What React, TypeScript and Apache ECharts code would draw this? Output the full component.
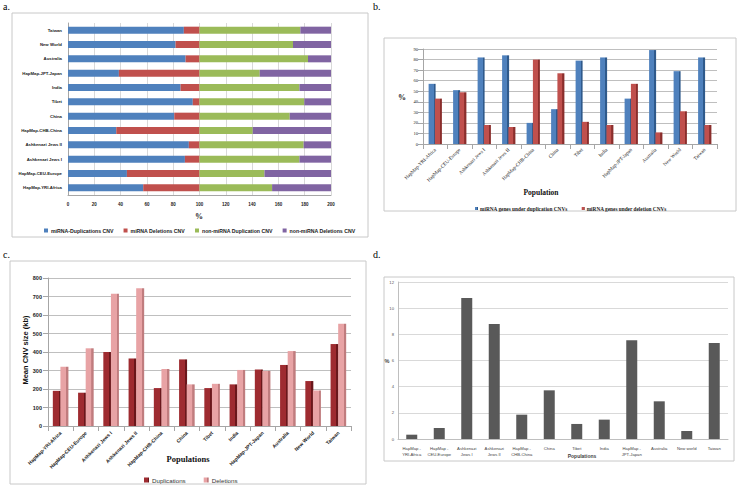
import React, { useEffect, useRef } from "react";
import * as echarts from "echarts";

const cats = [
  "HapMap-YRI-Africa",
  "HapMap-CEU-Europe",
  "Ashkenazi Jews I",
  "Ashkenazi Jews II",
  "HapMap-CHB-China",
  "China",
  "Tibet",
  "India",
  "HapMap-JPT-Japan",
  "Australia",
  "New World",
  "Taiwan",
];
const catsD = [
  "HapMap -\nYRI-Africa",
  "HapMap -\nCEU-Europe",
  "Ashkenazi\nJews I",
  "Ashkenazi\nJews II",
  "HapMap -\nCHB-China",
  "China",
  "Tibet",
  "India",
  "HapMap -\nJPT-Japan",
  "Australia",
  "New world",
  "Taiwan",
];

// Panel a (stacked %, two pairs each summing to 100)
const aMiDup = [57.2, 44.8, 88.9, 91.9, 36.7, 80.8, 94.9, 85.6, 38.7, 89.4, 81.8, 88.1];
const aMiDel = [42.8, 55.2, 11.1, 8.1, 63.3, 19.2, 5.1, 14.4, 61.3, 10.6, 18.2, 11.9];
const aNonDup = [55.2, 49.4, 76.0, 79.2, 40.5, 68.6, 79.7, 76.0, 45.8, 82.5, 71.1, 76.7];
const aNonDel = [44.8, 50.6, 24.0, 20.8, 59.5, 31.4, 20.3, 24.0, 54.2, 17.5, 28.9, 23.3];
const aTicks = [0, 200, 20];

// Panel b (%)
const bDup = [57, 51, 82, 84, 20, 33, 79, 82, 43, 89, 69, 82];
const bDel = [43, 49, 18, 16, 80, 67, 21, 18, 57, 11, 31, 18];

// Panel c (mean CNV size, kb)
const cDup = [190, 180, 400, 365, 205, 360, 205, 225, 305, 330, 243, 443];
const cDel = [320, 420, 715, 745, 308, 225, 228, 303, 298, 405, 192, 553];

// Panel d (%)
const dVals = [0.33, 0.84, 10.78, 8.79, 1.86, 3.72, 1.15, 1.48, 7.54, 2.88, 0.61, 7.34];

const SANS = "Liberation Sans, Arial, sans-serif";
const SERIF = "Liberation Serif, Times New Roman, serif";

function shade(base: string, side: string) {
  return new echarts.graphic.LinearGradient(0, 0, 1, 0, [
    { offset: 0, color: base },
    { offset: 0.72, color: base },
    { offset: 0.73, color: side },
    { offset: 1, color: side },
  ]);
}

export default function App() {
  const ref = useRef<HTMLDivElement>(null);
  useEffect(() => {
    if (!ref.current) return;
    const chart = echarts.init(ref.current, null, { renderer: "svg" });
    const grid = "#D9D9D9";
    const option: any = {
      animation: false,
      backgroundColor: "#ffffff",
      grid: [
        { left: 68, top: 23, width: 263, height: 172 },
        { left: 423, top: 49, width: 294, height: 95 },
        { left: 48, top: 278, width: 303, height: 148 },
        { left: 398, top: 282, width: 330, height: 157 },
      ],
      xAxis: [
        {
          gridIndex: 0,
          type: "value",
          min: aTicks[0],
          max: aTicks[1],
          interval: aTicks[2],
          axisLine: { show: true, lineStyle: { color: "#A6A6A6" } },
          axisTick: { show: false },
          splitLine: { lineStyle: { color: grid } },
          axisLabel: { fontSize: 4.5, fontWeight: "bold", color: "#222", fontFamily: SANS, margin: 7 },
        },
        {
          gridIndex: 1,
          type: "category",
          data: cats,
          axisLine: { lineStyle: { color: "#A6A6A6" } },
          axisTick: { show: true, lineStyle: { color: "#A6A6A6" } },
          axisLabel: { interval: 0, rotate: 45, fontSize: 5, color: "#222", fontFamily: SERIF, margin: 5 },
        },
        {
          gridIndex: 2,
          type: "category",
          data: cats,
          axisLine: { lineStyle: { color: "#A6A6A6" } },
          axisTick: { show: true, lineStyle: { color: "#A6A6A6" } },
          axisLabel: { interval: 0, rotate: 45, fontSize: 5, fontWeight: "bold", color: "#222", fontFamily: SANS, margin: 6 },
        },
        {
          gridIndex: 3,
          type: "category",
          data: catsD,
          axisLine: { lineStyle: { color: "#BFBFBF" } },
          axisTick: { show: false },
          axisLabel: { interval: 0, fontSize: 4.2, color: "#444", fontFamily: SANS, margin: 6, lineHeight: 6 },
        },
      ],
      yAxis: [
        {
          gridIndex: 0,
          type: "category",
          data: cats,
          axisLine: { show: true, lineStyle: { color: "#A6A6A6" } },
          axisTick: { show: false },
          axisLabel: { fontSize: 4.3, fontWeight: "bold", color: "#222", fontFamily: SANS, margin: 6 },
        },
        {
          gridIndex: 1,
          type: "value",
          min: 0,
          max: 90,
          interval: 10,
          axisLine: { show: true, lineStyle: { color: "#A6A6A6" } },
          axisTick: { show: true, lineStyle: { color: "#A6A6A6" } },
          splitLine: { lineStyle: { color: "#BFBFBF" } },
          axisLabel: { fontSize: 4.5, color: "#222", fontFamily: SERIF, margin: 5 },
        },
        {
          gridIndex: 2,
          type: "value",
          min: 0,
          max: 800,
          interval: 100,
          axisLine: { show: true, lineStyle: { color: "#A6A6A6" } },
          axisTick: { show: true, lineStyle: { color: "#A6A6A6" } },
          splitLine: { lineStyle: { color: "#BFBFBF" } },
          axisLabel: { fontSize: 5.5, fontWeight: "bold", color: "#222", fontFamily: SANS, margin: 6 },
        },
        {
          gridIndex: 3,
          type: "value",
          min: 0,
          max: 12,
          interval: 2,
          axisLine: { show: true, lineStyle: { color: "#BFBFBF" } },
          axisTick: { show: false },
          splitLine: { lineStyle: { color: grid } },
          axisLabel: { fontSize: 4.2, color: "#555", fontFamily: SANS, margin: 4 },
        },
      ],
      legend: [
        {
          data: ["miRNA-Duplications CNV", "miRNA Deletions CNV", "non-miRNA Duplication CNV", "non-miRNA Deletions CNV"],
          left: 39,
          top: 223,
          itemWidth: 4,
          itemHeight: 4,
          itemGap: 10,
          icon: "rect",
          textStyle: { fontSize: 5.2, fontWeight: "bold", color: "#222", fontFamily: SANS, padding: [0, 0, 0, -2] },
        },
        {
          data: ["miRNA genes under duplication CNVs", "miRNA genes under deletion CNVs"],
          left: 470,
          top: 201,
          itemWidth: 3,
          itemHeight: 3,
          itemGap: 14,
          icon: "rect",
          textStyle: { fontSize: 5.3, fontWeight: "bold", color: "#222", fontFamily: SERIF, padding: [0, 0, 0, -3] },
        },
        {
          data: ["Duplications", "Deletions"],
          left: 139,
          top: 472,
          itemWidth: 5,
          itemHeight: 5,
          itemGap: 18,
          icon: "rect",
          textStyle: { fontSize: 6.2, color: "#333", fontFamily: SANS, padding: [0, 0, 0, -2] },
        },
      ],
      series: [
        { name: "miRNA-Duplications CNV", type: "bar", xAxisIndex: 0, yAxisIndex: 0, stack: "a", barWidth: 7, data: aMiDup, itemStyle: { color: "#4F81BD" } },
        { name: "miRNA Deletions CNV", type: "bar", xAxisIndex: 0, yAxisIndex: 0, stack: "a", barWidth: 7, data: aMiDel, itemStyle: { color: "#C0504D" } },
        { name: "non-miRNA Duplication CNV", type: "bar", xAxisIndex: 0, yAxisIndex: 0, stack: "a", barWidth: 7, data: aNonDup, itemStyle: { color: "#9BBB59" } },
        { name: "non-miRNA Deletions CNV", type: "bar", xAxisIndex: 0, yAxisIndex: 0, stack: "a", barWidth: 7, data: aNonDel, itemStyle: { color: "#8064A2", borderColor: "#5A4676", borderWidth: 0 } },
        {
          name: "miRNA genes under duplication CNVs",
          type: "bar",
          xAxisIndex: 1,
          yAxisIndex: 1,
          barWidth: 7,
          barGap: "-10%",
          data: bDup,
          itemStyle: { color: shade("#4F81BD", "#2F5A8C") },
        },
        {
          name: "miRNA genes under deletion CNVs",
          type: "bar",
          xAxisIndex: 1,
          yAxisIndex: 1,
          barWidth: 7,
          barGap: "-10%",
          data: bDel,
          itemStyle: { color: shade("#C0504D", "#8A2E2C") },
        },
        {
          name: "Duplications",
          type: "bar",
          xAxisIndex: 2,
          yAxisIndex: 2,
          barWidth: 8,
          barGap: "-5%",
          data: cDup,
          itemStyle: { color: shade("#9E2B30", "#6A171B") },
        },
        {
          name: "Deletions",
          type: "bar",
          xAxisIndex: 2,
          yAxisIndex: 2,
          barWidth: 8,
          barGap: "-5%",
          data: cDel,
          itemStyle: { color: shade("#E8A3A5", "#C07C7E") },
        },
        {
          name: "d",
          type: "bar",
          xAxisIndex: 3,
          yAxisIndex: 3,
          barWidth: 11,
          data: dVals,
          itemStyle: { color: "#595959" },
        },
      ],
      graphic: [
        { type: "rect", shape: { x: 12, y: 13, width: 356, height: 224 }, style: { fill: "none", stroke: "#C8C8C8", lineWidth: 1 }, z: -1 },
        { type: "rect", shape: { x: 384, y: 38, width: 352, height: 173 }, style: { fill: "none", stroke: "#C8C8C8", lineWidth: 1 }, z: -1 },
        { type: "rect", shape: { x: 10, y: 261, width: 356, height: 223 }, style: { fill: "none", stroke: "#C8C8C8", lineWidth: 1 }, z: -1 },
        { type: "rect", shape: { x: 384, y: 277, width: 350, height: 184 }, style: { fill: "none", stroke: "#C8C8C8", lineWidth: 1 }, z: -1 },
        { type: "text", x: 3, y: 1, style: { text: "a.", fontSize: 10, fontFamily: SERIF, fill: "#000" } },
        { type: "text", x: 373, y: 1, style: { text: "b.", fontSize: 10, fontFamily: SERIF, fill: "#000" } },
        { type: "text", x: 3, y: 249, style: { text: "c.", fontSize: 10, fontFamily: SERIF, fill: "#000" } },
        { type: "text", x: 373, y: 249, style: { text: "d.", fontSize: 10, fontFamily: SERIF, fill: "#000" } },
        { type: "text", x: 199, y: 216, style: { text: "%", fontSize: 8, fontWeight: "bold", fontFamily: SERIF, fill: "#222", align: "center", verticalAlign: "middle" } },
        { type: "text", x: 402, y: 97, style: { text: "%", fontSize: 8, fontWeight: "bold", fontFamily: SERIF, fill: "#222", align: "center", verticalAlign: "middle" } },
        { type: "text", x: 541, y: 192, style: { text: "Population", fontSize: 7.5, fontWeight: "bold", fontFamily: SERIF, fill: "#111", align: "center", verticalAlign: "middle" } },
        { type: "text", x: 25, y: 350, rotation: Math.PI / 2, style: { text: "Mean CNV size (kb)", fontSize: 7.5, fontWeight: "bold", fontFamily: SANS, fill: "#111", align: "center", verticalAlign: "middle" } },
        { type: "text", x: 188, y: 459, style: { text: "Populations", fontSize: 8.5, fontWeight: "bold", fontFamily: SERIF, fill: "#111", align: "center", verticalAlign: "middle" } },
        { type: "text", x: 387, y: 361, style: { text: "%", fontSize: 5.5, fontWeight: "bold", fontFamily: SANS, fill: "#444", align: "center", verticalAlign: "middle" } },
        { type: "text", x: 582, y: 456, style: { text: "Populations", fontSize: 5, fontWeight: "bold", fontFamily: SANS, fill: "#444", align: "center", verticalAlign: "middle" } },
      ],
    };
    chart.setOption(option);
    return () => chart.dispose();
  }, []);
  return (
    <div
      ref={ref}
      style={{ position: "fixed", left: 0, top: 0, width: 739, height: 488, background: "#fff" }}
    />
  );
}
